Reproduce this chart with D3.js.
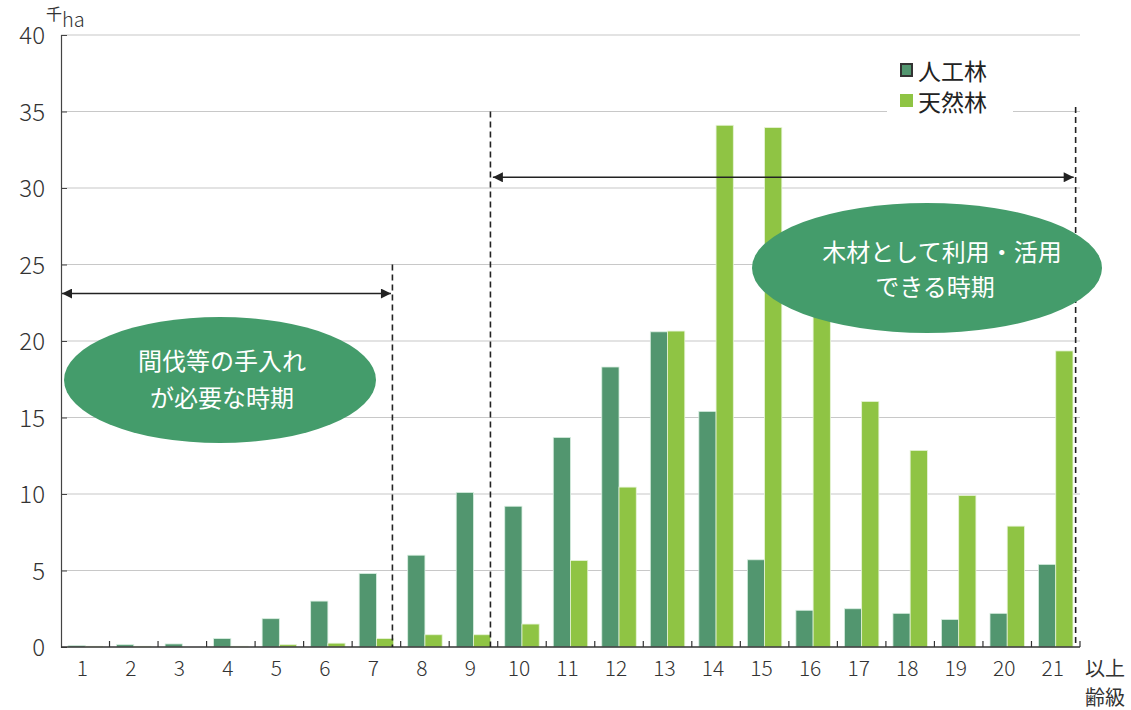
<!DOCTYPE html>
<html><head><meta charset="utf-8">
<script src="https://cdn.jsdelivr.net/npm/d3@7"></script>
<style>
body{margin:0;background:#fff;}
text{font-family:"Noto Sans CJK JP","Noto Sans",sans-serif;}
</style></head>
<body><svg id="c" width="1131" height="710"></svg>
<script>
const categories = ["1","2","3","4","5","6","7","8","9","10","11","12","13","14","15","16","17","18","19","20","21"];
const planted = [0.1,0.15,0.2,0.55,1.85,3.0,4.8,6.0,10.1,9.2,13.7,18.3,20.6,15.4,5.7,2.4,2.5,2.2,1.8,2.2,5.4];
const natural = [0.05,0.05,0.0,0.05,0.15,0.25,0.55,0.8,0.8,1.5,5.65,10.45,20.65,34.1,33.95,27.0,16.05,12.85,9.9,7.9,19.35];
const yTicks = [0,5,10,15,20,25,30,35,40];
const seriesNames = ["人工林","天然林"];

const svg = d3.select("#c");
const L=61, R=1080, T=35, B=647;
const x = d3.scaleBand().domain(categories).range([L,R]).paddingInner(0).paddingOuter(0);
const y = d3.scaleLinear().domain([0,40]).range([B,T]);
const bw = x.bandwidth();
const pad = bw*0.145;
const barW = (bw-2*pad)/2;
const colDark="#52966f", colLight="#8fc444", colEll="#449c6b";
const numFont = "'Open Sans','Noto Sans',sans-serif";

// gridlines
svg.append("g").selectAll("line").data(yTicks.filter(d=>d>0)).join("line")
 .attr("x1",L).attr("x2",R).attr("y1",d=>y(d)).attr("y2",d=>y(d))
 .attr("stroke","#c8c8c8").attr("stroke-width",1.2);

// bars
const g = svg.append("g");
g.selectAll(".p").data(planted).join("rect")
 .attr("x",(d,i)=>x(categories[i])+pad).attr("width",barW)
 .attr("y",d=>y(d)).attr("height",d=>B-y(d))
 .attr("fill",colDark).attr("stroke","#d8eee0").attr("stroke-width",0.8);
g.selectAll(".n").data(natural).join("rect")
 .attr("x",(d,i)=>x(categories[i])+pad+barW).attr("width",barW)
 .attr("y",d=>y(d)).attr("height",d=>B-y(d))
 .attr("fill",colLight).attr("stroke","#e6f3d6").attr("stroke-width",0.8);

// axes
const yAxis = d3.axisLeft(y).tickValues(yTicks).tickSize(-6).tickPadding(16);
const ya = svg.append("g").attr("transform",`translate(${L},0)`).call(yAxis);
ya.select(".domain").attr("stroke","#444").attr("stroke-width",1.2);
ya.selectAll(".tick line").attr("stroke","#444");
ya.selectAll("text").attr("font-size",24).attr("font-weight",300).attr("fill","#333").attr("font-family",numFont);
ya.selectAll(".tick text").attr("dy","0.36em");

svg.append("line").attr("x1",L).attr("x2",R).attr("y1",B).attr("y2",B).attr("stroke","#333").attr("stroke-width",1.5);
svg.append("g").selectAll("line").data(categories).join("line")
 .attr("x1",(d,i)=>L+bw*(i+1)).attr("x2",(d,i)=>L+bw*(i+1))
 .attr("y1",B).attr("y2",B-6).attr("stroke","#333").attr("stroke-width",1.2);
svg.append("g").selectAll("text").data(categories).join("text")
 .attr("x",d=>x(d)+bw/2-3).attr("y",676).attr("text-anchor","middle")
 .attr("font-size",21).attr("font-weight",300).attr("fill","#333").attr("font-family",numFont).text(d=>d);
svg.append("text").attr("x",1085).attr("y",676).attr("font-size",20).attr("fill","#333").text("以上");
svg.append("text").attr("x",1085).attr("y",705).attr("font-size",20).attr("fill","#333").text("齢級");

// unit label
svg.append("text").attr("x",46).attr("y",20).attr("font-size",16).attr("fill","#333").text("千");
svg.append("text").attr("x",62).attr("y",27).attr("font-size",20).attr("font-weight",300).attr("fill","#333").attr("font-family",numFont).text("ha");

// dashed lines
const dashes = [{c:"7",f:0.83,top:25},{c:"9",f:0.85,top:35},{c:"21",f:0.91,top:35.3}];
svg.append("g").selectAll("line").data(dashes).join("line")
 .attr("x1",d=>x(d.c)+bw*d.f).attr("x2",d=>x(d.c)+bw*d.f)
 .attr("y1",d=>y(d.top)).attr("y2",B)
 .attr("stroke","#222").attr("stroke-width",1.6).attr("stroke-dasharray","6,4");

// arrows
const defs = svg.append("defs");
defs.append("marker").attr("id","ah").attr("viewBox","0 0 10 10").attr("refX",10).attr("refY",5)
 .attr("markerWidth",14).attr("markerHeight",10).attr("markerUnits","userSpaceOnUse").attr("orient","auto-start-reverse")
 .append("path").attr("d","M0,0L10,5L0,10Z").attr("fill","#222");
const arrows = [{x1:L+1,x2:x("7")+bw*0.80,v:23.1},{x1:x("9")+bw*0.9,x2:x("21")+bw*0.87,v:30.7}];
svg.append("g").selectAll("line").data(arrows).join("line")
 .attr("x1",d=>d.x1).attr("x2",d=>d.x2).attr("y1",d=>y(d.v)).attr("y2",d=>y(d.v))
 .attr("stroke","#222").attr("stroke-width",1.6)
 .attr("marker-start","url(#ah)").attr("marker-end","url(#ah)");

// legend
svg.append("rect").attr("x",887).attr("y",52).attr("width",126).attr("height",66).attr("fill","#fff");
svg.append("rect").attr("x",901).attr("y",64).attr("width",11).attr("height",12).attr("fill",colDark).attr("stroke","#333").attr("stroke-width",2);
svg.append("rect").attr("x",900).attr("y",94).attr("width",13).attr("height",13).attr("fill",colLight);
svg.append("text").attr("x",918).attr("y",80).attr("font-size",23).attr("fill","#222").text(seriesNames[0]);
svg.append("text").attr("x",918).attr("y",111).attr("font-size",23).attr("fill","#222").text(seriesNames[1]);

// ellipses
svg.append("ellipse").attr("cx",220).attr("cy",380).attr("rx",156).attr("ry",63).attr("fill",colEll);
svg.append("text").attr("x",222).attr("y",370).attr("text-anchor","middle").attr("font-size",24).attr("fill","#fff").text("間伐等の手入れ");
svg.append("text").attr("x",222).attr("y",407).attr("text-anchor","middle").attr("font-size",24).attr("fill","#fff").text("が必要な時期");
svg.append("ellipse").attr("cx",927).attr("cy",268).attr("rx",175).attr("ry",65).attr("fill",colEll);
svg.append("text").attr("x",942).attr("y",261).attr("text-anchor","middle").attr("font-size",24).attr("fill","#fff").text("木材として利用・活用");
svg.append("text").attr("x",935).attr("y",296).attr("text-anchor","middle").attr("font-size",24).attr("fill","#fff").text("できる時期");
</script></body></html>
